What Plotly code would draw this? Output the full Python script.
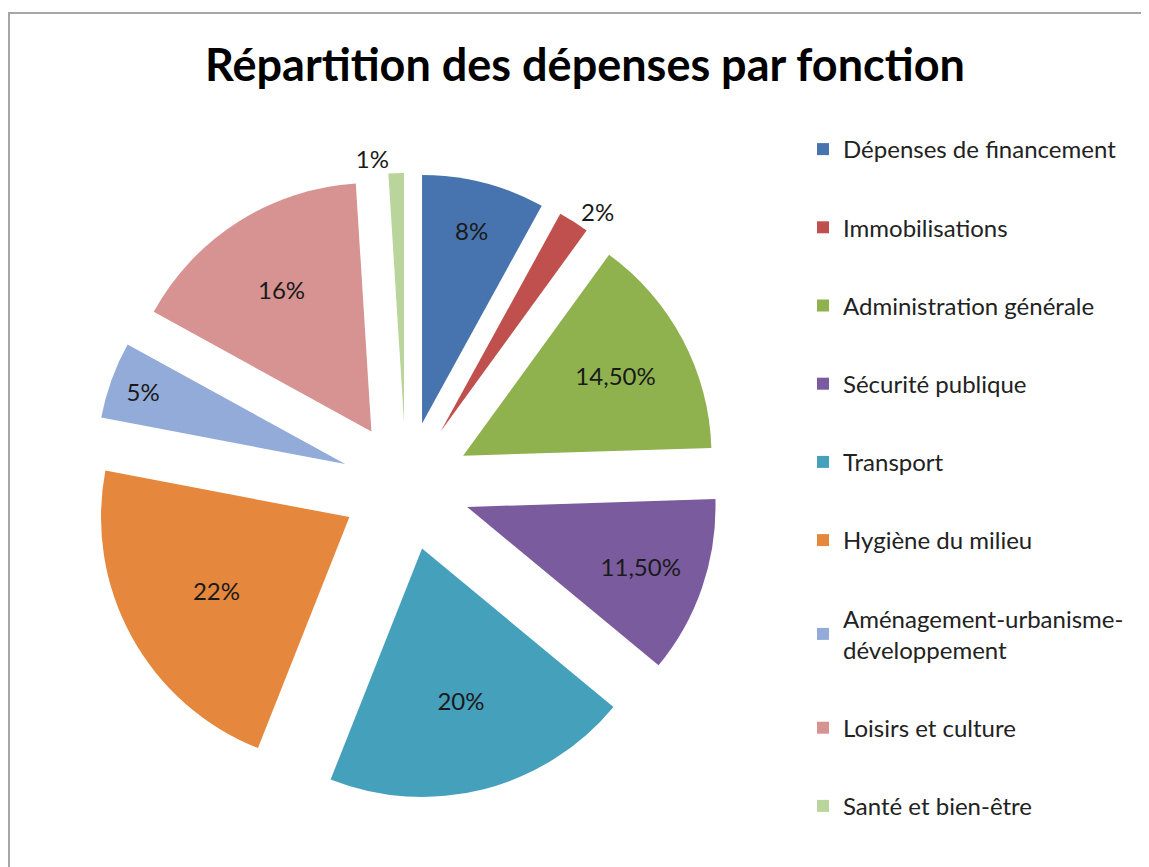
import plotly.graph_objects as go

categories = [
    "Dépenses de financement",
    "Immobilisations",
    "Administration générale",
    "Sécurité publique",
    "Transport",
    "Hygiène du milieu",
    "Aménagement-urbanisme-<br>développement",
    "Loisirs et culture",
    "Santé et bien-être",
]
values = [8, 2, 14.5, 11.5, 20, 22, 5, 16, 1]
colors = ["#4774AE", "#C0504D", "#8FB24F", "#7A5C9E", "#45A0BB",
          "#E5873C", "#93ABD8", "#D69392", "#B9D59B"]

OFF = 8  # page offset of the figure inside the browser window
W, H = 1149 - OFF, 867 - OFF


def fmt(v):
    if float(v).is_integer():
        return f"{int(v)}%"
    return f"{v:.2f}".replace(".", ",") + "%"


def px_x(x):
    return (x - OFF) / W


def px_y(y):
    return 1 - (y - OFF) / H


labels_txt = [fmt(v) for v in values]
positions = ["outside" if v <= 2 else "inside" for v in values]

FONT = "Lato"
TXT = dict(family=FONT, size=24, color="#1a1a1a")

fig = go.Figure()
fig.add_trace(go.Pie(
    labels=categories,
    values=values,
    text=labels_txt,
    textinfo="text",
    textposition=positions,
    insidetextorientation="horizontal",
    sort=False,
    direction="clockwise",
    rotation=0,
    pull=[0.26] * len(values),
    marker=dict(colors=colors, line=dict(width=0)),
    textfont=TXT,
    outsidetextfont=TXT,
    insidetextfont=TXT,
    showlegend=False,
    automargin=False,
    hoverinfo="label+percent",
    domain=dict(x=[px_x(93), px_x(719)], y=[px_y(799), px_y(173)]),
))

# legend entries
for i, (name, c) in enumerate(zip(categories, colors)):
    fig.add_trace(go.Scatter(
        x=[None], y=[None], mode="markers", name=name,
        marker=dict(symbol="square", size=12, color=c),
        legendgroup=f"g{i}", showlegend=True, hoverinfo="skip",
    ))

fig.update_layout(
    width=W, height=H,
    autosize=False,
    margin=dict(l=0, r=0, t=0, b=0, pad=0, autoexpand=False),
    paper_bgcolor="white",
    plot_bgcolor="white",
    xaxis=dict(visible=False),
    yaxis=dict(visible=False),
    title=dict(
        text="<b>Répartition des dépenses par fonction</b>",
        x=px_x(585), xanchor="center",
        y=px_y(65), yanchor="middle",
        font=dict(family=FONT, size=45, color="black"),
    ),
    legend=dict(
        x=px_x(803), xanchor="left",
        y=px_y(127), yanchor="top",
        traceorder="grouped",
        tracegroupgap=44,
        font=dict(family=FONT, size=24, color="#222222"),
        bgcolor="rgba(0,0,0,0)",
        itemclick=False, itemdoubleclick=False,
    ),
    shapes=[dict(
        type="rect", xref="paper", yref="paper",
        x0=1 / W, x1=1.05, y0=-0.05, y1=px_y(13),
        line=dict(color="#A6A6A6", width=2), fillcolor="rgba(0,0,0,0)",
        layer="below",
    )],
)

fig.write_html("out.html")
